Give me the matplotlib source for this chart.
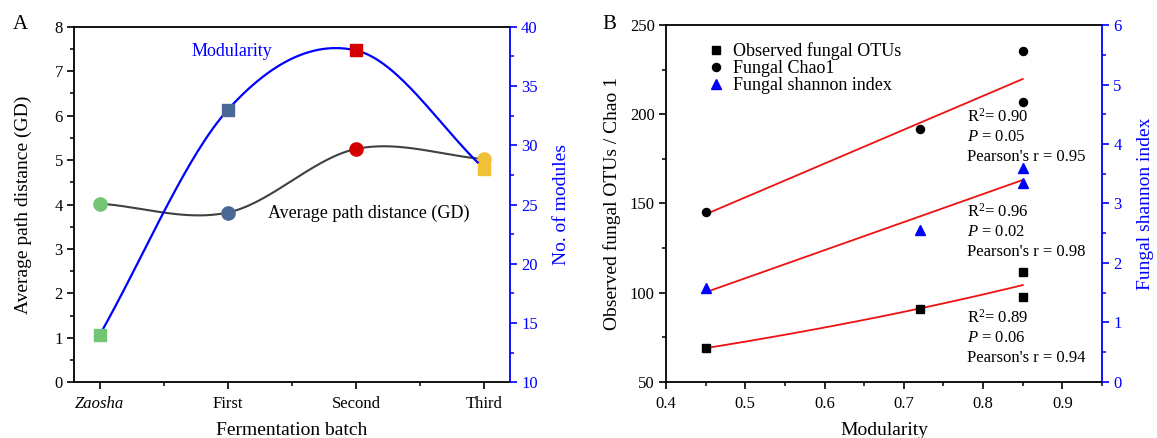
import numpy as np
import matplotlib
matplotlib.use("Agg")
import matplotlib.pyplot as plt
from matplotlib.ticker import MultipleLocator, FixedLocator

plt.rcParams['font.family'] = ['Liberation Serif', 'DejaVu Serif']
plt.rcParams['mathtext.fontset'] = 'custom'
plt.rcParams['mathtext.rm'] = 'Liberation Serif'
plt.rcParams['mathtext.it'] = 'Liberation Serif:italic'

# ---- Panel A: network properties per fermentation batch ----
batches = ['Zaosha', 'First', 'Second', 'Third']
path_distance = [4.02, 3.82, 5.25, 5.02]
n_modules = [14, 33, 38, 28]
batch_colors = ['#74c476', '#4a6795', '#d40000', '#f2c037']

# ---- Panel B: diversity vs. modularity ----
modularity = [0.45, 0.72, 0.85, 0.85]
observed_otus = [69.0, 91.0, 111.6, 97.6]
chao1 = [145.1, 191.6, 235.2, 206.7]
shannon = [1.58, 2.56, 3.60, 3.34]
stats_chao1 = ['R$^2$= 0.90', '$P$ = 0.05', "Pearson's r = 0.95"]
stats_shannon = ['R$^2$= 0.96', '$P$ = 0.02', "Pearson's r = 0.98"]
stats_otus = ['R$^2$= 0.89', '$P$ = 0.06', "Pearson's r = 0.94"]
legend_labels = ['Observed fungal OTUs', 'Fungal Chao1', 'Fungal shannon index']


def smooth_curve(x, y, n=60):
    """Catmull-Rom (cubic Hermite) curve through the points (x, y)."""
    x = np.asarray(x, float)
    y = np.asarray(y, float)
    m = np.empty_like(y)
    m[1:-1] = (y[2:] - y[:-2]) / (x[2:] - x[:-2])
    m[0] = (y[1] - y[0]) / (x[1] - x[0])
    m[-1] = (y[-1] - y[-2]) / (x[-1] - x[-2])
    xs_all, ys_all = [], []
    for i in range(len(x) - 1):
        h = x[i + 1] - x[i]
        t = np.linspace(0, 1, n)
        h00 = 2 * t ** 3 - 3 * t ** 2 + 1
        h10 = t ** 3 - 2 * t ** 2 + t
        h01 = -2 * t ** 3 + 3 * t ** 2
        h11 = t ** 3 - t ** 2
        xs_all.append(x[i] + t * h)
        ys_all.append(h00 * y[i] + h10 * h * m[i] + h01 * y[i + 1] + h11 * h * m[i + 1])
    return np.concatenate(xs_all), np.concatenate(ys_all)


def style_ticks(ax, color='black'):
    ax.tick_params(which='major', direction='out', length=5, width=1.2,
                   labelsize=12, pad=3, colors=color)
    ax.tick_params(which='minor', direction='out', length=2.8, width=1.1,
                   colors=color)


fig = plt.figure(figsize=(11.57, 4.38), dpi=100)

# ================= Panel A =================
axA = fig.add_axes([0.0640, 0.1272, 0.3768, 0.8118])
axA2 = axA.twinx()
xpos = np.arange(len(batches))

xs, ys = smooth_curve(xpos, path_distance)
axA.plot(xs, ys, color='#404040', lw=1.5, zorder=2)
for xi, yi, c in zip(xpos, path_distance, batch_colors):
    axA.plot(xi, yi, 'o', ms=9.5, color=c, mec=c, zorder=3)

xs, ys = smooth_curve(xpos, n_modules)
axA2.plot(xs, ys, color='blue', lw=1.6, zorder=2)
for xi, yi, c in zip(xpos, n_modules, batch_colors):
    axA2.plot(xi, yi, 's', ms=9, color=c, mec=c, zorder=3)

axA.set_xlim(-0.2, 3.2)
axA.set_ylim(0, 8)
axA2.set_ylim(10, 40)
axA.set_xticks(xpos)
axA.set_xticklabels(batches)
axA.get_xticklabels()[0].set_style('italic')
axA.xaxis.set_minor_locator(FixedLocator([0.5, 1.5, 2.5]))
axA.yaxis.set_major_locator(MultipleLocator(1))
axA.yaxis.set_minor_locator(MultipleLocator(0.5))
axA2.yaxis.set_major_locator(MultipleLocator(5))
axA2.yaxis.set_minor_locator(MultipleLocator(2.5))
style_ticks(axA)
style_ticks(axA2, color='blue')
axA.tick_params(axis='x', pad=5)

for s in axA.spines.values():
    s.set_linewidth(1.3)
axA.spines['right'].set_visible(False)
for name in ('left', 'top', 'bottom'):
    axA2.spines[name].set_visible(False)
axA2.spines['right'].set_color('blue')
axA2.spines['right'].set_linewidth(1.3)

axA.set_xlabel('Fermentation batch', fontsize=14, labelpad=7)
axA.set_ylabel('Average path distance (GD)', fontsize=14, labelpad=16.5)
axA2.set_ylabel('No. of modules', fontsize=14, color='blue', labelpad=11)

axA.text(0.72, 7.44, 'Modularity', color='blue', fontsize=13, va='center')
axA.text(1.31, 3.80, 'Average path distance (GD)', fontsize=13, va='center')

# ================= Panel B =================
axB = fig.add_axes([0.5756, 0.1279, 0.3769, 0.8150])
axB2 = axB.twinx()

mx = np.asarray(modularity)
xfit = np.linspace(mx.min(), mx.max(), 100)

# regression lines
k, b = np.polyfit(mx, chao1, 1)
axB.plot(xfit, k * xfit + b, color='#ee1111', lw=1.3, zorder=2)
k, b = np.polyfit(mx, np.log(observed_otus), 1)
axB.plot(xfit, np.exp(k * xfit + b), color='#ee1111', lw=1.3, zorder=2)
k, b = np.polyfit(mx, shannon, 1)
axB2.plot(xfit, k * xfit + b, color='#ee1111', lw=1.3, zorder=2)

h_otu, = axB.plot(mx, observed_otus, 's', ms=5.3, color='black', zorder=3)
h_chao, = axB.plot(mx, chao1, 'o', ms=5.8, color='black', zorder=3)
h_sha, = axB2.plot(mx, shannon, '^', ms=6.8, color='blue', zorder=3)

axB.set_xlim(0.4, 0.95)
axB.set_ylim(50, 250)
axB2.set_ylim(0, 6)
axB.xaxis.set_major_locator(MultipleLocator(0.1))
axB.xaxis.set_minor_locator(MultipleLocator(0.05))
axB.yaxis.set_major_locator(MultipleLocator(50))
axB.yaxis.set_minor_locator(MultipleLocator(25))
axB2.yaxis.set_major_locator(MultipleLocator(1))
axB2.yaxis.set_minor_locator(MultipleLocator(0.5))
style_ticks(axB)
style_ticks(axB2, color='blue')
axB.tick_params(axis='x', pad=5)

for s in axB.spines.values():
    s.set_linewidth(1.3)
axB.spines['right'].set_visible(False)
for name in ('left', 'top', 'bottom'):
    axB2.spines[name].set_visible(False)
axB2.spines['right'].set_color('blue')
axB2.spines['right'].set_linewidth(1.3)

axB.set_xlabel('Modularity', fontsize=14, labelpad=7)
axB.set_ylabel('Observed fungal OTUs / Chao 1', fontsize=14, labelpad=6.5)
axB2.set_ylabel('Fungal shannon index', fontsize=14, color='blue', labelpad=11)

# statistics next to each regression line
for lines, y_top in ((stats_chao1, 198.5), (stats_shannon, 145.5), (stats_otus, 85.8)):
    for i, s in enumerate(lines):
        axB.annotate(s, xy=(0.78, y_top), xytext=(0, -14.4 * i),
                     textcoords='offset points', fontsize=12, va='center',
                     ha='left', zorder=4)

axB2.legend([h_otu, h_chao, h_sha], legend_labels, loc='upper left',
            bbox_to_anchor=(0.095, 0.952), bbox_transform=axB.transAxes,
            frameon=False, fontsize=13, handlelength=1.0, handletextpad=0.42,
            labelspacing=0.0, borderpad=0, borderaxespad=0, numpoints=1)

fig.text(0.0173, 0.943, 'A', fontsize=15, ha='center', va='center')
fig.text(0.527, 0.945, 'B', fontsize=15, ha='center', va='center')

fig.savefig('out.png', dpi=100)
